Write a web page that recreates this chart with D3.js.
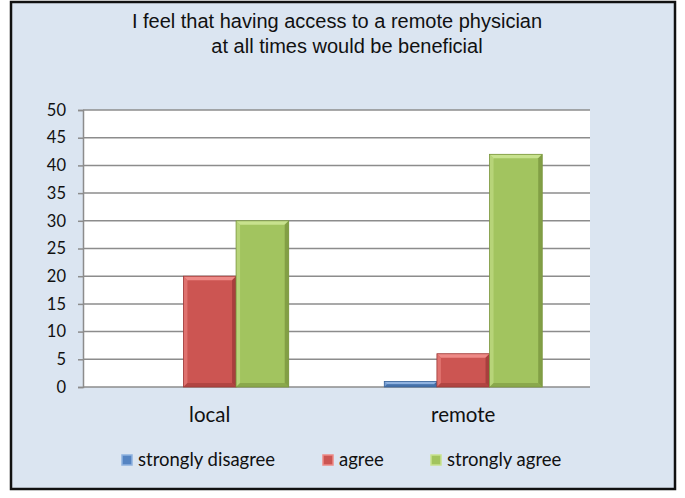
<!DOCTYPE html>
<html>
<head>
<meta charset="utf-8">
<script src="https://cdn.jsdelivr.net/npm/d3@7"></script>
<style>
  html, body { margin: 0; padding: 0; background: #fff; }
</style>
</head>
<body>
<div id="chart"></div>
<script>
const categories = ["local", "remote"];
const seriesNames = ["strongly disagree", "agree", "strongly agree"];
const strongly_disagree = [0, 1];
const agree = [20, 6];
const strongly_agree = [30, 42];
const yTicks = [0, 5, 10, 15, 20, 25, 30, 35, 40, 45, 50];
const titleLines = ["I feel that having access to a remote physician", "at all times would be beneficial"];

const seriesValues = [strongly_disagree, agree, strongly_agree];
const colors = ["#5584c2", "#cc5552", "#a2c45f"];
const light = ["#8fb2e0", "#ee8a87", "#c8e28e"];
const dark = ["#3a6499", "#9e3a38", "#7a963f"];

const width = 685, height = 498;
const plot = {left: 83, right: 590, top: 110, bottom: 387};

const svg = d3.select("#chart").append("svg")
    .attr("width", width)
    .attr("height", height);

// outer frame
svg.append("rect")
    .attr("x", 11).attr("y", 2)
    .attr("width", 664).attr("height", 487)
    .attr("fill", "#dbe5f1")
    .attr("stroke", "#111")
    .attr("stroke-width", 2.5);

// title
svg.append("g")
    .attr("font-family", "'Liberation Sans', Arial, sans-serif")
    .attr("font-size", 20)
    .attr("fill", "#111")
    .attr("text-anchor", "middle")
    .selectAll("text")
    .data(titleLines)
    .join("text")
    .attr("x", (d, i) => i === 0 ? 337 : 347)
    .attr("y", (d, i) => 28 + i * 25)
    .text(d => d);

// plot background
svg.append("rect")
    .attr("x", plot.left).attr("y", plot.top)
    .attr("width", plot.right - plot.left).attr("height", plot.bottom - plot.top)
    .attr("fill", "#fff");

const y = d3.scaleLinear().domain([0, 50]).range([plot.bottom, plot.top]);
const x0 = d3.scaleBand().domain(categories).range([plot.left, plot.right])
    .paddingInner(0.377).paddingOuter(0.1885);
const x1 = d3.scaleBand().domain(seriesNames).range([0, x0.bandwidth()]);

// grid lines
svg.append("g")
    .attr("stroke", "#8c8c8c")
    .attr("stroke-width", 1.5)
    .selectAll("line")
    .data(yTicks)
    .join("line")
    .attr("x1", plot.left).attr("x2", plot.right)
    .attr("y1", d => y(d)).attr("y2", d => y(d));

// y axis
const yAxis = svg.append("g")
    .attr("transform", `translate(${plot.left},0)`)
    .call(d3.axisLeft(y).tickValues(yTicks).tickSize(5).tickPadding(12));
yAxis.select(".domain").attr("stroke", "#8c8c8c").attr("stroke-width", 1.5);
yAxis.selectAll(".tick line").attr("stroke", "#8c8c8c").attr("stroke-width", 1.5);
yAxis.selectAll(".tick text")
    .attr("font-family", "Lato, 'Open Sans', sans-serif")
    .attr("font-size", 16.5)
    .attr("fill", "#111");

// bars with bevel
const bars = [];
categories.forEach((c, ci) => {
    seriesNames.forEach((s, si) => {
        bars.push({cat: c, s: s, si: si, v: seriesValues[si][ci]});
    });
});

const barG = svg.append("g")
    .selectAll("g")
    .data(bars.filter(d => d.v > 0))
    .join("g");

barG.each(function (d) {
    const g = d3.select(this);
    const bx = x0(d.cat) + x1(d.s);
    const bw = x1.bandwidth();
    const by = y(d.v);
    const bh = y(0) - by;
    const b = Math.min(4, bh / 2);
    g.append("rect")
        .attr("x", bx).attr("y", by).attr("width", bw).attr("height", bh)
        .attr("fill", colors[d.si]);
    // top
    g.append("polygon")
        .attr("points", [[bx, by], [bx + bw, by], [bx + bw - b, by + b], [bx + b, by + b]].join(" "))
        .attr("fill", light[d.si]);
    // left
    g.append("polygon")
        .attr("points", [[bx, by], [bx + b, by + b], [bx + b, by + bh - b], [bx, by + bh]].join(" "))
        .attr("fill", light[d.si]).attr("opacity", 0.55);
    // right
    g.append("polygon")
        .attr("points", [[bx + bw, by], [bx + bw, by + bh], [bx + bw - b, by + bh - b], [bx + bw - b, by + b]].join(" "))
        .attr("fill", dark[d.si]).attr("opacity", 0.8);
    // bottom
    g.append("polygon")
        .attr("points", [[bx, by + bh], [bx + bw, by + bh], [bx + bw - b, by + bh - b], [bx + b, by + bh - b]].join(" "))
        .attr("fill", dark[d.si]).attr("opacity", 0.6);
    g.append("rect")
        .attr("x", bx).attr("y", by).attr("width", bw).attr("height", bh)
        .attr("fill", "none").attr("stroke", dark[d.si]).attr("stroke-width", 0.8);
});

// category labels
svg.append("g")
    .attr("font-family", "Lato, 'Open Sans', sans-serif")
    .attr("font-size", 20.5)
    .attr("fill", "#111")
    .attr("text-anchor", "middle")
    .selectAll("text")
    .data(categories)
    .join("text")
    .attr("x", d => x0(d) + x0.bandwidth() / 2)
    .attr("y", 422)
    .text(d => d);

// legend
const legendX = [122, 323, 431];
const legend = svg.append("g")
    .selectAll("g")
    .data(seriesNames)
    .join("g")
    .attr("transform", (d, i) => `translate(${legendX[i]},455)`);

legend.append("rect")
    .attr("width", 10).attr("height", 10)
    .attr("fill", (d, i) => colors[i])
    .attr("stroke", (d, i) => light[i])
    .attr("stroke-width", 1.5);

legend.append("text")
    .attr("x", 16)
    .attr("y", 11)
    .attr("font-family", "Lato, 'Open Sans', sans-serif")
    .attr("font-size", 18.5)
    .attr("fill", "#111")
    .text(d => d);
</script>
</body>
</html>
